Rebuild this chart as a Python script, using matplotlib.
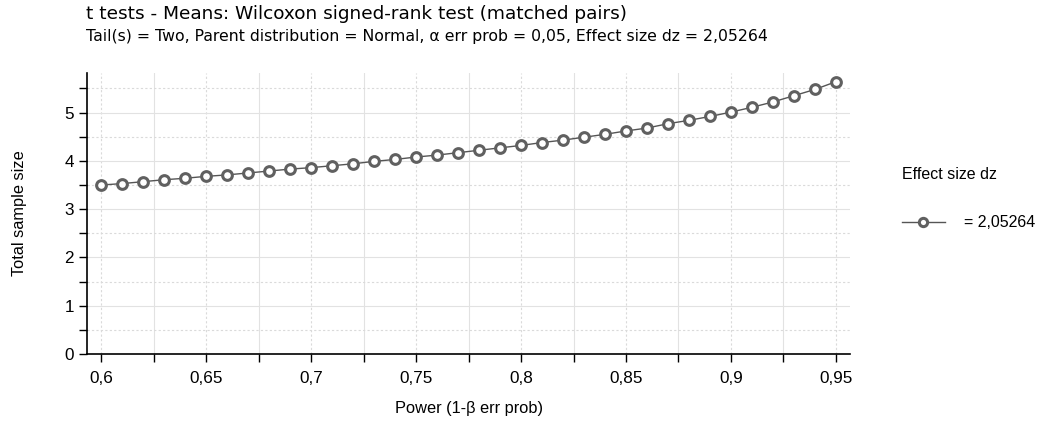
import numpy as np
from matplotlib import pyplot as plt
from matplotlib.ticker import FuncFormatter, MultipleLocator

# Data
power = [0.60, 0.61, 0.62, 0.63, 0.64, 0.65, 0.66, 0.67, 0.68, 0.69,
         0.70, 0.71, 0.72, 0.73, 0.74, 0.75, 0.76, 0.77, 0.78, 0.79,
         0.80, 0.81, 0.82, 0.83, 0.84, 0.85, 0.86, 0.87, 0.88, 0.89,
         0.90, 0.91, 0.92, 0.93, 0.94, 0.95]
sample_size = [3.50, 3.53, 3.57, 3.61, 3.64, 3.68, 3.71, 3.75, 3.79, 3.83,
               3.86, 3.90, 3.94, 3.99, 4.03, 4.08, 4.12, 4.17, 4.22, 4.27,
               4.32, 4.38, 4.43, 4.49, 4.55, 4.62, 4.68, 4.77, 4.84, 4.92,
               5.01, 5.11, 5.22, 5.35, 5.48, 5.64]
series_label = "= 2,05264"
legend_title = "Effect size dz"

title = "t tests - Means: Wilcoxon signed-rank test (matched pairs)"
subtitle = ("Tail(s) = Two, Parent distribution = Normal, \u03b1 err prob = 0,05, "
            "Effect size dz = 2,05264")


def comma(v, pos):
    s = f"{v:.3f}".rstrip("0").rstrip(".")
    return s.replace(".", ",")


plt.rcParams["font.family"] = ["Liberation Sans", "DejaVu Sans"]

fig = plt.figure(figsize=(10.45, 4.21), dpi=100)
ax = fig.add_axes([0.0833, 0.159, 0.7301, 0.6676])

ax.plot(power, sample_size, color="#555555", lw=1.0, marker="o", ms=7,
        mfc="white", mec="#606060", mew=2.2, label=series_label, zorder=3)

ax.set_xlim(0.5933, 0.9567)
ax.set_ylim(0, 5.82)
ax.xaxis.set_major_locator(MultipleLocator(0.05))
ax.xaxis.set_minor_locator(MultipleLocator(0.025))
ax.yaxis.set_major_locator(MultipleLocator(1))
ax.yaxis.set_minor_locator(MultipleLocator(0.5))
ax.xaxis.set_major_formatter(FuncFormatter(comma))
ax.yaxis.set_major_formatter(FuncFormatter(comma))

ax.grid(axis="x", which="major", color="#dadada", ls=(0, (2, 2)), lw=0.8)
ax.grid(axis="x", which="minor", color="#e2e2e2", ls="-", lw=0.8)
ax.grid(axis="y", which="major", color="#e2e2e2", ls="-", lw=0.8)
ax.grid(axis="y", which="minor", color="#dadada", ls=(0, (2, 2)), lw=0.8)
ax.set_axisbelow(True)

for s in ["top", "right"]:
    ax.spines[s].set_visible(False)
for s in ["left", "bottom"]:
    ax.spines[s].set_linewidth(1.2)

ax.tick_params(which="both", direction="out", length=5.5, width=1.0, labelsize=12.3)
ax.tick_params(axis="y", pad=4)
ax.tick_params(axis="x", pad=7)

ax.set_xlabel("Power (1-\u03b2 err prob)", fontsize=11.8)
ax.set_ylabel("Total sample size", fontsize=11.8)
ax.xaxis.set_label_coords(0.5, -0.168)
ax.yaxis.set_label_coords(-0.079, 0.5)

fig.text(0.0825, 0.966, title, fontsize=13.3, va="center",
         family=["DejaVu Sans"])
fig.text(0.0825, 0.914, subtitle, fontsize=11.3, va="center",
         family=["DejaVu Sans"])

leg = ax.legend(loc="upper left", bbox_to_anchor=(0.863, 0.604),
                bbox_transform=fig.transFigure, frameon=False,
                title=legend_title, fontsize=11.5, title_fontsize=11.5,
                handlelength=2.7, handletextpad=1.2, borderaxespad=0,
                borderpad=0, labelspacing=2.1, markerscale=0.85)
leg._legend_box.align = "left"

fig.savefig("out.png", dpi=100)
